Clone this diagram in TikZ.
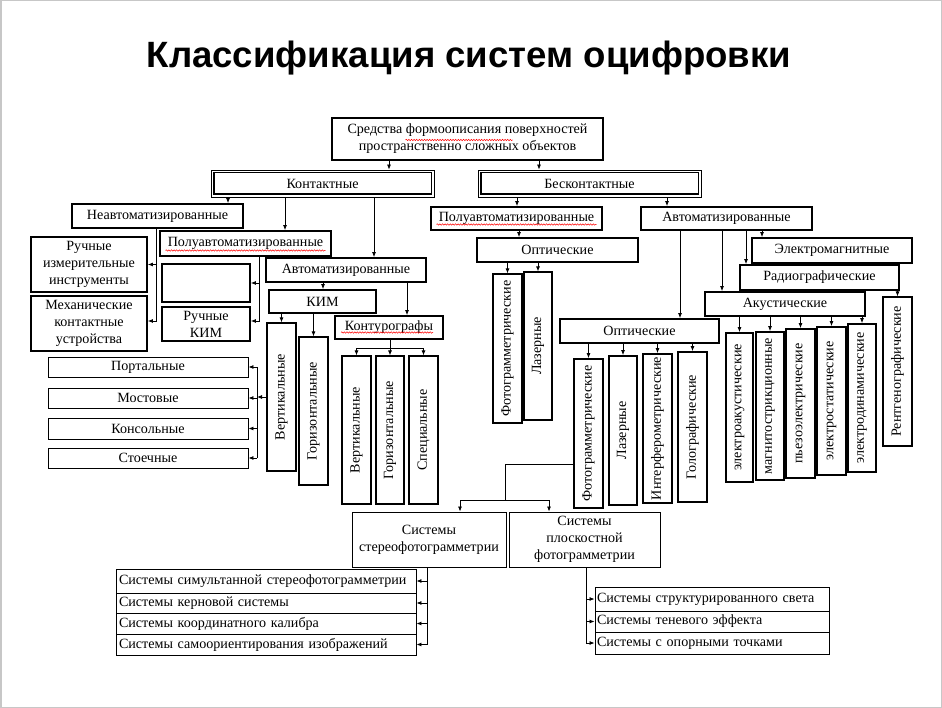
\documentclass[tikz,border=0pt]{standalone}
\usepackage{fontspec}
\setmainfont{Liberation Serif}
\newfontfamily\headfont{Liberation Sans}
\usetikzlibrary{arrows.meta,decorations.pathmorphing}

\newcommand\bodysize{\fontsize{14.1}{17}\selectfont}
\newcommand\vtext[1]{\rotatebox{90}{#1}}
% \boxnode[options]{name}{x1}{y1}{x2}{y2}{text}
\newcommand\boxnode[7][]{\node[box,#1,minimum width={(#5)-(#3)},minimum height={(#6)-(#4)}] (#2) at ({((#3)+(#5))/2},{((#4)+(#6))/2}) {#7};}

\tikzset{
  box/.style={draw, line width=1.8pt, inner sep=0pt, align=center, font=\bodysize},
  thinbox/.style={line width=0.9pt},
  midbox/.style={line width=1.2pt},
  dblbox/.style={line width=0.8pt},
  leftbox/.style={text width=#1, align=left},
  ln/.style={line width=0.8pt},
  arr/.style={ln, -{Latex[length=5pt,width=4pt]}},
  spell/.style={red, line width=0.5pt, decorate, decoration={snake, amplitude=0.7pt, segment length=2.6pt}},
  slideframe/.style={draw=black!22, line width=1.5pt},
}

\begin{document}
\begin{tikzpicture}[x=1pt,y=-1pt]
\useasboundingbox (0,0) rectangle (942,708);
\fill[white] (0,0) rectangle (942,708);
\draw[slideframe] (0.75,0.75) rectangle (941.25,707.25);

\node[anchor=base, font=\headfont\bfseries\fontsize{36.6}{40}\selectfont] (title) at (469,68) {Классификация систем оцифровки};

% root
\boxnode{top}{332}{118}{603}{160}{Средства формоописания поверхностей\\пространственно сложных объектов}
\draw[spell] ([shift={(-62,1)}]top.center) -- ([shift={(45,1)}]top.center);

% first level, double framed
\boxnode[dblbox]{kont}{211}{170}{434}{197}{Контактные}
\boxnode[dblbox]{bkont}{478}{170}{701}{197}{Бесконтактные}
\foreach \n in {kont,bkont}
  \draw[line width=1.8pt] ([shift={(3,3)}]\n.north west) rectangle ([shift={(-3,-3)}]\n.south east);
\draw[arr] (389,0 |- top.south) -- (389,0 |- kont.north);
\draw[arr] (539,0 |- top.south) -- (539,0 |- bkont.north);

% contact branch
\boxnode{neavt}{72}{204}{243}{228}{Неавтоматизированные}
\boxnode{polu1}{160}{231}{331}{256}{Полуавтоматизированные}
\draw[spell] ([shift={(-80,7)}]polu1.center) -- ([shift={(80,7)}]polu1.center);
\boxnode{avt1}{266}{258}{426}{282}{Автоматизированные}
\draw[arr] (228,0 |- kont.south) -- (228,0 |- neavt.north);
\draw[arr] (285,0 |- kont.south) -- (285,0 |- polu1.north);
\draw[arr] (374,0 |- kont.south) -- (374,0 |- avt1.north);

\boxnode{ruchizm}{31}{237}{147}{292}{Ручные\\измерительные\\инструменты}
\boxnode{mech}{31}{296}{147}{351}{Механические\\контактные\\устройства}
\draw[arr] (156,0 |- neavt.south) |- (mech.east |- 0,321);
\draw[arr] (156,0 |- ruchizm.east) -- (ruchizm.east);

\boxnode{empty}{162}{264}{250}{302}{}
\boxnode{ruchkim}{162}{307}{250}{341}{Ручные\\КИМ}
\draw[arr] (259,0 |- polu1.south) |- (ruchkim.east |- 0,321);
\draw[arr] (259,0 |- empty.east) -- (empty.east);

\boxnode{kim}{269}{290}{376}{313}{КИМ}
\boxnode{kontur}{335}{316}{443}{339}{Контурографы}
\draw[spell] ([shift={(-48,5)}]kontur.center) -- ([shift={(44,5)}]kontur.center);
\draw[arr] (323,0 |- avt1.south) -- (323,0 |- kim.north);
\draw[arr] (407,0 |- avt1.south) -- (407,0 |- kontur.north);

\boxnode[midbox]{vert1}{267}{323}{296}{471}{\vtext{Вертикальные}}
\boxnode[midbox]{hor1}{299}{337}{328}{485}{\vtext{Горизонтальные}}
\draw[arr] (vert1.north |- kim.south) -- (vert1.north);
\draw[arr] (hor1.north |- kim.south) -- (hor1.north);

\boxnode[midbox]{vert2}{342}{356}{371}{504}{\vtext{Вертикальные}}
\boxnode[midbox]{hor2}{376}{356}{404}{504}{\vtext{Горизонтальные}}
\boxnode[midbox]{spec}{409}{356}{438}{504}{\vtext{Специальные}}
\coordinate (kfork) at (hor2.north |- 0,348);
\draw[ln] (kfork |- kontur.south) -- (kfork);
\draw[arr] (kfork) -| (vert2.north);
\draw[arr] (kfork) -- (hor2.north);
\draw[arr] (kfork) -| (spec.north);

\boxnode[thinbox]{port}{48}{357}{248}{377}{Портальные}
\boxnode[thinbox]{most}{48}{388}{248}{408}{Мостовые}
\boxnode[thinbox]{kons}{48}{418}{248}{439}{Консольные}
\boxnode[thinbox]{stoech}{48}{448}{248}{468}{Стоечные}
\coordinate (vbus) at (257,397);
\draw[arr] (vert1.west |- vbus) -- (vbus);
\draw[ln] (vbus |- port.east) -- (vbus |- stoech.east);
\foreach \n in {port,most,kons,stoech}
  \draw[arr] (vbus |- \n.east) -- (\n.east);

% contactless branch
\boxnode{polu2}{431}{207}{602}{230}{Полуавтоматизированные}
\draw[spell] ([shift={(-80,6)}]polu2.center) -- ([shift={(80,6)}]polu2.center);
\boxnode{avt2}{641}{207}{812}{230}{Автоматизированные}
\draw[arr] (517,0 |- bkont.south) -- (517,0 |- polu2.north);
\draw[arr] (667,0 |- bkont.south) -- (667,0 |- avt2.north);

\boxnode{opt1}{477}{238}{638}{262}{Оптические}
\draw[arr] (519,0 |- polu2.south) -- (519,0 |- opt1.north);
\boxnode[midbox]{foto1}{493}{274}{522}{423}{\vtext{Фотограмметрические}}
\boxnode[midbox]{laz1}{524}{272}{552}{420}{\vtext{Лазерные}}
\draw[arr] (foto1.north |- opt1.south) -- (foto1.north);
\draw[arr] (laz1.north |- opt1.south) -- (laz1.north);

\boxnode{elmag}{752}{238}{912}{263}{Электромагнитные}
\boxnode{radio}{740}{265}{899}{290}{Радиографические}
\boxnode{akust}{705}{292}{865}{316}{Акустические}
\boxnode{opt2}{560}{319}{719}{343}{Оптические}
\boxnode[midbox]{rentg}{883}{297}{912}{446}{\vtext{Рентгенографические}}
\draw[arr] (680,0 |- avt2.south) -- (680,0 |- opt2.north);
\draw[arr] (722,0 |- avt2.south) -- (722,0 |- akust.north);
\draw[arr] (746,0 |- avt2.south) -- (746,0 |- radio.north);
\draw[arr] (762,0 |- avt2.south) -- (762,0 |- elmag.north);
\draw[arr] (rentg.north |- radio.south) -- (rentg.north);

\boxnode{ea}{726}{333}{753}{482}{\vtext{электроакустические}}
\boxnode{ms}{756}{332}{784}{480}{\vtext{магнитострикционные}}
\boxnode{pe}{786}{329}{815}{478}{\vtext{пьезоэлектрические}}
\boxnode{es}{817}{327}{846}{475}{\vtext{электростатические}}
\boxnode{ed}{848}{324}{876}{472}{\vtext{электродинамические}}
\foreach \n in {ea,ms,pe,es,ed}
  \draw[arr] (\n.north |- akust.south) -- (\n.north);

\boxnode{foto2}{574}{359}{603}{508}{\vtext{Фотограмметрические}}
\boxnode{laz2}{609}{356}{637}{505}{\vtext{Лазерные}}
\boxnode{interf}{643}{354}{672}{503}{\vtext{Интерферометрические}}
\boxnode{golo}{678}{352}{707}{502}{\vtext{Голографические}}
\foreach \n in {foto2,laz2,interf,golo}
  \draw[arr] (\n.north |- opt2.south) -- (\n.north);

% photogrammetric systems
\boxnode[thinbox]{stereo}{352}{512}{506}{567}{Системы\\стереофотограмметрии}
\boxnode[thinbox]{plosk}{509}{512}{660}{567}{Системы\\плоскостной\\фотограмметрии}
\coordinate (sfork) at (505,500);
\draw[ln] (foto2.west |- 0,464) -| (sfork);
\draw[arr] (sfork) -| (stereo.north -| 460,0);
\draw[arr] (sfork) -| (plosk.north -| 549,0);

\boxnode[thinbox,leftbox=294]{s1}{116}{569}{416}{593}{Системы симультанной стереофотограмметрии}
\boxnode[thinbox,leftbox=294]{s2}{116}{593}{416}{613}{Системы керновой системы}
\boxnode[thinbox,leftbox=294]{s3}{116}{613}{416}{634}{Системы координатного калибра}
\boxnode[thinbox,leftbox=294]{s4}{116}{634}{416}{655}{Системы самоориентирования изображений}
\draw[arr] (427,0 |- stereo.south) |- (s4.east);
\foreach \n in {s1,s2,s3}
  \draw[arr] (427,0 |- \n.east) -- (\n.east);

\boxnode[thinbox,leftbox=230]{p1}{595}{587}{829}{611}{Системы структурированного света}
\boxnode[thinbox,leftbox=230]{p2}{595}{611}{829}{632}{Системы теневого эффекта}
\boxnode[thinbox,leftbox=230]{p3}{595}{632}{829}{654}{Системы с опорными точками}
\draw[arr] (586,0 |- plosk.south) |- (p3.west |- 0,643);
\foreach \n in {p1,p2}
  \draw[arr] (586,0 |- \n.west) -- (\n.west);
\end{tikzpicture}
\end{document}
